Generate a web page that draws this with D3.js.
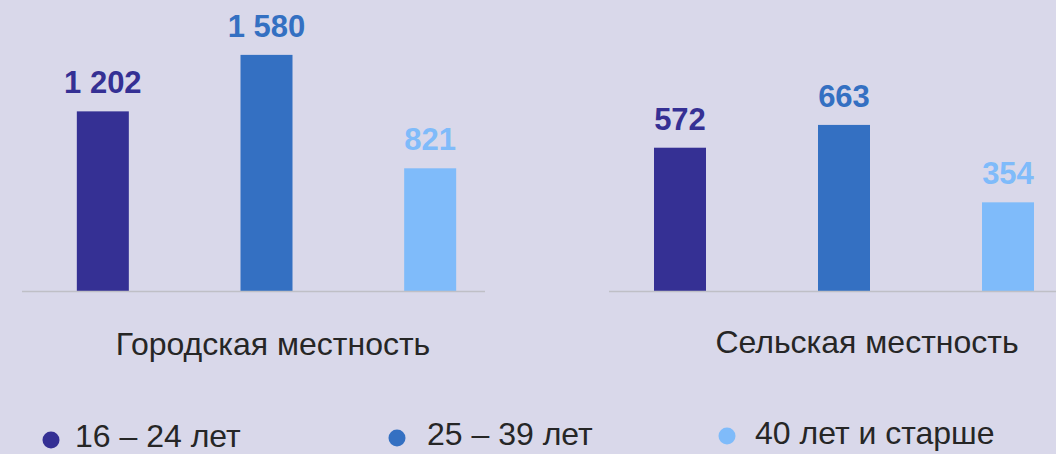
<!DOCTYPE html>
<html>
<head>
<meta charset="utf-8">
<script src="https://cdn.jsdelivr.net/npm/d3@7"></script>
<style>
  html, body { margin: 0; padding: 0; background: #d9d8ea; }
  svg { display: block; font-family: "Liberation Sans", Arial, sans-serif; }
</style>
</head>
<body>
<div id="main"></div>
<script>
const ageGroups = ["16 – 24 лет", "25 – 39 лет", "40 лет и старше"];
const areas = ["Городская местность", "Сельская местность"];
const urbanValues = [1202, 1580, 821];
const ruralValues = [572, 663, 354];
const colors = ["#353094", "#3470c2", "#7fbbfa"];

const width = 1056;
const height = 454;
const baseY = 291;
const barWidth = 52;
const fmt = (v) => d3.format(",")(v).replace(/,/g, " ");

const svg = d3.select("#main").append("svg").attr("width", width).attr("height", height);
svg.append("rect").attr("width", width).attr("height", height).attr("fill", "#d9d8ea");

const panels = [
  { name: areas[0], values: urbanValues, xr: [21, 512], line: [22, 485], max: 1800, top: 22, labelX: 273, labelY: 355 },
  { name: areas[1], values: ruralValues, xr: [598, 1090], line: [609, 1056], max: 1000, top: 40.5, labelX: 867, labelY: 353 }
];

panels.forEach((p) => {
  const x = d3.scalePoint().domain(ageGroups).range(p.xr).padding(0.5);
  const y = d3.scaleLinear().domain([0, p.max]).range([baseY, p.top]);
  const g = svg.append("g");
  const data = ageGroups.map((a, i) => ({ a, v: p.values[i], c: colors[i] }));

  g.selectAll("rect.bar")
    .data(data)
    .enter()
    .append("rect")
    .attr("class", "bar")
    .attr("x", (d) => x(d.a) - barWidth / 2)
    .attr("y", (d) => y(d.v))
    .attr("width", barWidth)
    .attr("height", (d) => baseY + 1 - y(d.v))
    .attr("fill", (d) => d.c);

  g.append("line")
    .attr("x1", p.line[0])
    .attr("x2", p.line[1])
    .attr("y1", baseY + 0.5)
    .attr("y2", baseY + 0.5)
    .attr("stroke", "#bfbfc6")
    .attr("stroke-width", 1.5);

  g.selectAll("text.val")
    .data(data)
    .enter()
    .append("text")
    .attr("class", "val")
    .attr("x", (d) => x(d.a))
    .attr("y", (d) => y(d.v) - 18)
    .attr("text-anchor", "middle")
    .attr("font-size", 31)
    .attr("font-weight", "bold")
    .attr("fill", (d) => d.c)
    .text((d) => fmt(d.v));

  g.append("text")
    .attr("x", p.labelX)
    .attr("y", p.labelY)
    .attr("text-anchor", "middle")
    .attr("font-size", 32)
    .attr("fill", "#262626")
    .text(p.name);
});

// legend
const legendPos = [
  { cx: 51, cy: 440, tx: 75, ty: 447 },
  { cx: 397, cy: 438, tx: 427, ty: 444.5 },
  { cx: 727, cy: 436, tx: 755, ty: 443.5 }
];
const legend = svg.append("g");
ageGroups.forEach((a, i) => {
  legend.append("circle")
    .attr("cx", legendPos[i].cx)
    .attr("cy", legendPos[i].cy)
    .attr("r", 8.5)
    .attr("fill", colors[i]);
  legend.append("text")
    .attr("x", legendPos[i].tx)
    .attr("y", legendPos[i].ty)
    .attr("font-size", 32)
    .attr("fill", "#262626")
    .text(a);
});
</script>
</body>
</html>
